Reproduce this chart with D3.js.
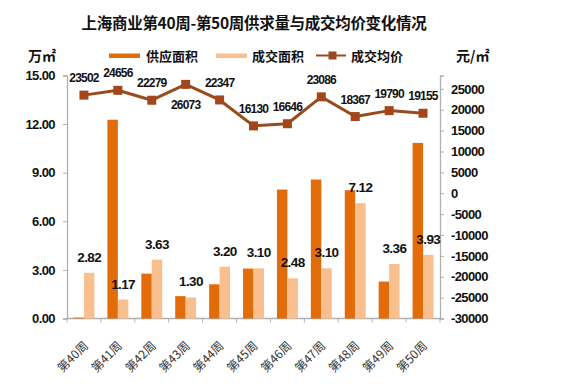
<!DOCTYPE html>
<html><head><meta charset="utf-8">
<script src="https://cdn.jsdelivr.net/npm/d3@7"></script>
<style>
body{margin:0;background:#fff;}
svg{display:block;}
.num{font-family:"Liberation Sans",Arial,sans-serif;font-weight:bold;fill:#111;}
.cjk{font-family:"Noto Sans CJK SC",sans-serif;font-weight:bold;fill:#111;}
.cat{font-family:"Noto Sans CJK SC",sans-serif;font-weight:normal;fill:#333;}
</style></head>
<body>
<script>
const weeks = ["第40周","第41周","第42周","第43周","第44周","第45周","第46周","第47周","第48周","第49周","第50周"];
const supply = [0.05,12.27,2.77,1.38,2.11,3.08,7.96,8.58,7.92,2.28,10.84];
const deal = [2.82,1.17,3.63,1.30,3.20,3.10,2.48,3.10,7.12,3.36,3.93];
const price = [23502,24656,22279,26073,22347,16130,16646,23086,18367,19790,19155];
const leftTicks = [0,3,6,9,12,15];
const rightTicks = [-30000,-25000,-20000,-15000,-10000,-5000,0,5000,10000,15000,20000,25000];

const W = 571, H = 387;
const C_SUP = "#E36C0A", C_DEAL = "#F9BF8F", C_LINE = "#9A4A1C", C_AXIS = "#b0b0b0";

const svg = d3.select("body").append("svg").attr("width", W).attr("height", H);

const x = d3.scaleBand().domain(weeks).range([67, 440]);
const x1 = d3.scaleBand().domain(["s","d"]).range([0, x.bandwidth()]).paddingOuter(0.62);
const yL = d3.scaleLinear().domain([0, 15]).range([318.5, 75.5]);
const yR = d3.scaleLinear().domain([-30000, 28200]).range([318.5, 75.5]);

// title
svg.append("text").attr("class","cjk").attr("x", 254).attr("y", 29)
  .attr("text-anchor","middle").attr("font-size", 15.5).attr("letter-spacing", -0.3)
  .text("上海商业第40周-第50周供求量与成交均价变化情况");

// unit labels
svg.append("text").attr("class","cjk").attr("x", 28).attr("y", 61).attr("font-size", 14).text("万㎡");
svg.append("text").attr("class","cjk").attr("x", 456).attr("y", 61).attr("font-size", 14).text("元/㎡");

// legend
const lg = svg.append("g");
lg.append("rect").attr("x",109).attr("y",53.5).attr("width",31).attr("height",4.5).attr("fill",C_SUP);
lg.append("text").attr("class","cjk").attr("x",146).attr("y",60.5).attr("font-size",13).text("供应面积");
lg.append("rect").attr("x",216).attr("y",53.5).attr("width",31).attr("height",4.5).attr("fill",C_DEAL);
lg.append("text").attr("class","cjk").attr("x",252).attr("y",60.5).attr("font-size",13).text("成交面积");
lg.append("line").attr("x1",316).attr("x2",346).attr("y1",55.5).attr("y2",55.5).attr("stroke",C_LINE).attr("stroke-width",2);
lg.append("rect").attr("x",328.5).attr("y",51.5).attr("width",8).attr("height",8).attr("fill",C_LINE);
lg.append("text").attr("class","cjk").attr("x",351).attr("y",60.5).attr("font-size",13).text("成交均价");

// axes
const axL = d3.axisLeft(yL).tickValues(leftTicks).tickSize(4).tickFormat(d3.format(".2f"));
const gL = svg.append("g").attr("transform","translate(67,0)").call(axL);
const axR = d3.axisRight(yR).tickValues(rightTicks).tickSize(4).tickFormat(d => String(d));
const gR = svg.append("g").attr("transform","translate(440,0)").call(axR);
[gL,gR].forEach(g => {
  g.select(".domain").attr("stroke",C_AXIS).attr("stroke-width",1.3);
  g.selectAll(".tick line").attr("stroke",C_AXIS);
  g.selectAll(".tick text").attr("class","num").attr("font-size",13).attr("letter-spacing",-0.6).attr("fill","#111");
});
gL.selectAll(".tick text").attr("x",-12);
gR.selectAll(".tick text").attr("x",11);

// bottom axis
const gB = svg.append("g").attr("transform","translate(0,318.5)");
gB.append("line").attr("x1",67).attr("x2",440).attr("stroke",C_AXIS).attr("stroke-width",1.3);
gB.selectAll("line.tk").data(weeks.concat(["end"])).join("line").attr("class","tk")
  .attr("x1",(d,i)=> i<weeks.length ? x(d) : 440).attr("x2",(d,i)=> i<weeks.length ? x(d) : 440)
  .attr("y1",0).attr("y2",4).attr("stroke",C_AXIS);
gB.selectAll("text").data(weeks).join("text").attr("class","cat")
  .attr("font-size",12)
  .attr("text-anchor","end")
  .attr("transform", d => `translate(${x(d)+x.bandwidth()/2+5},${28}) rotate(-45)`)
  .text(d => d);

// bars
svg.append("g").selectAll("rect").data(weeks).join("rect")
  .attr("x", d => x(d)+x1("s")).attr("width", x1.bandwidth())
  .attr("y", (d,i) => yL(supply[i])).attr("height", (d,i) => yL(0)-yL(supply[i]))
  .attr("fill", C_SUP);
svg.append("g").selectAll("rect").data(weeks).join("rect")
  .attr("x", d => x(d)+x1("d")).attr("width", x1.bandwidth())
  .attr("y", (d,i) => yL(deal[i])).attr("height", (d,i) => yL(0)-yL(deal[i]))
  .attr("fill", C_DEAL);

// deal labels
svg.append("g").selectAll("text").data(weeks).join("text").attr("class","num")
  .attr("font-size",13.5).attr("letter-spacing",-0.6).attr("text-anchor","middle")
  .attr("x", d => x(d)+x1("d")+x1.bandwidth()/2)
  .attr("y", (d,i) => yL(deal[i]) - 11)
  .text((d,i) => deal[i].toFixed(2));

// price line
const cx = d => x(d)+x.bandwidth()/2;
const line = d3.line().x((v,i)=>cx(weeks[i])).y(v=>yR(v));
svg.append("path").datum(price).attr("d", line).attr("fill","none")
  .attr("stroke",C_LINE).attr("stroke-width",3).attr("stroke-linejoin","round");
svg.append("g").selectAll("rect").data(price).join("rect")
  .attr("x",(v,i)=>cx(weeks[i])-4.5).attr("y",v=>yR(v)-4.5)
  .attr("width",9).attr("height",9).attr("fill","#A3461A");
const maxP = d3.max(price);
svg.append("g").selectAll("text").data(price).join("text").attr("class","num")
  .attr("font-size",12).attr("letter-spacing",-0.8).attr("text-anchor","middle")
  .attr("x",(v,i)=>cx(weeks[i]))
  .attr("y", v => v === maxP ? yR(v)+25 : yR(v)-13)
  .text(v => String(v));
</script>
</body></html>
